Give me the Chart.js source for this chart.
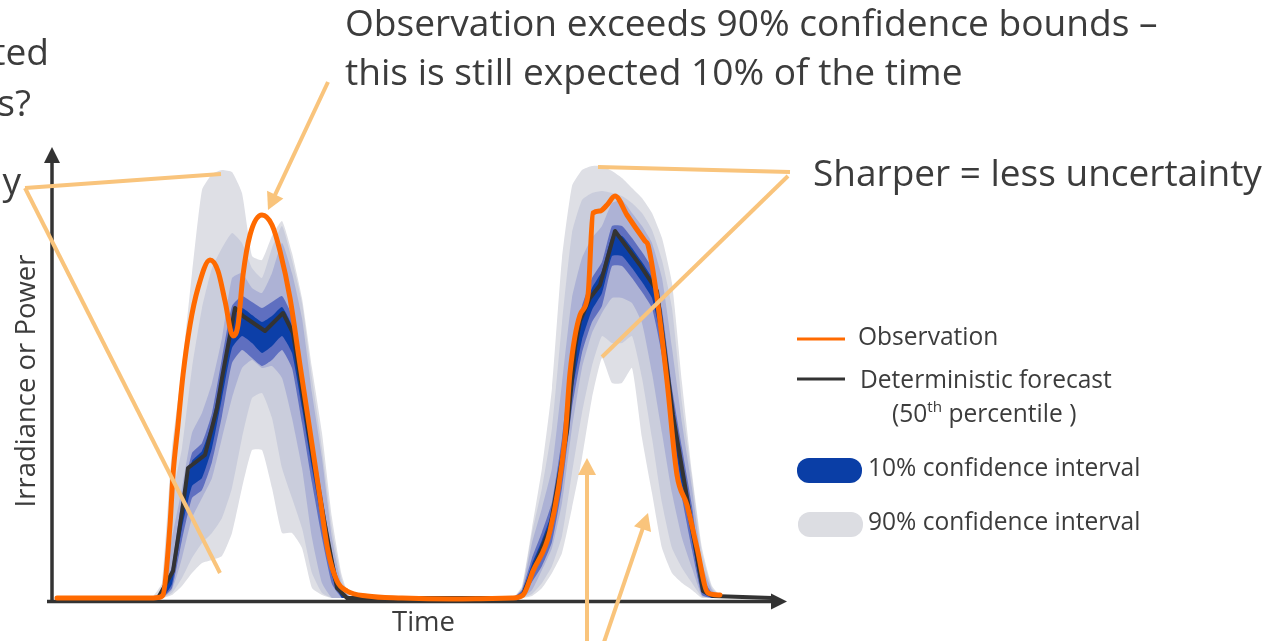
<!DOCTYPE html>
<html>
<head>
<meta charset="utf-8">
<script src="https://cdn.jsdelivr.net/npm/chart.js@4.4.1/dist/chart.umd.min.js"></script>
<style>
html,body{margin:0;padding:0;background:#ffffff;overflow:hidden;}
#wrap{width:1280px;height:641px;position:relative;}
</style>
</head>
<body>
<div id="wrap"><canvas id="c"></canvas></div>
<script>
// ---------------- DATA (time in hours, value in arbitrary irradiance/power units) ----------------
const obsX = [0.5,10,10.6,11.1,11.8,12.1,12.6,13.1,13.8,14.6,15.8,16.6,17.3,18.1,18.6,19.1,19.8,21,22,22.8,23.8,24.8,25.8,26.8,27.6,28.5,29.5,31.5,35,40,44,46,47.1,48.1,49.8,51.3,51.8,52.8,53.6,54.1,54.8,55.5,56.3,57.5,59.3,59.6,60.5,61.5,62.5,63.5,64.5,65.6,66.8];
const obsY = [0,0,0.5,3,73,123,173,223,273,310,338,327,297,262,273,323,363,383,373,347,300,233,167,100,47,17,7,2,0,-1,-0.5,0,3,27,67,160,225,283,303,385,387,393,402,383,357,353,300,217,123,93,50,5,3];

const detX = [0.5,10.6,12.1,12.8,13.1,13.6,15.3,16.5,17,18.3,19.1,21.3,23.1,24.1,24.5,25.8,27.3,28.5,29.5,46.5,47.1,49.8,51.5,52.3,52.8,53.8,54.8,56.3,58.8,60.5,62.1,63.8,65.1,66.1,72];
const detY = [0,0,27,73,93,130,143,190,220,290,282,267,285,265,240,157,73,10,0,0,3,70,167,250,277,300,313,367,333,307,183,83,7,2,0];

// quantile grid: day 1 and day 2
const bandX = [10,11,12,13,14,15,16,17,18,19,20,21,22,23,24,25,26,27,28,29,30,
               46,47,48,49,50,51,52,53,54,55,56,57,58,59,60,61,62,63,64,65,66,67];
const p95 = [0,15,150,230,325,408,424,428,426,405,342,338,362,377,345,300,230,165,80,22,0,
             0,12,70,130,210,340,412,428,432,432,427,420,410,400,385,360,315,215,125,50,12,0];
const p85 = [0,8,100,150,230,290,330,350,365,355,330,320,350,372,338,295,220,150,70,18,0,
             0,10,65,110,170,275,365,398,405,407,405,402,395,385,368,338,290,195,120,45,10,0];
const p70 = [0,5,60,110,165,185,215,260,320,325,310,305,325,355,325,280,205,140,60,12,0,
             0,9,55,90,130,215,300,340,360,372,395,398,385,372,355,320,250,175,110,35,8,0];
const p60 = [0,4,32,100,145,155,185,240,292,302,296,290,296,302,282,225,162,104,44,7,0,
             0,8,40,66,96,160,245,292,320,336,372,372,360,346,330,288,210,150,92,22,5,0];
const p55 = [0,3,26,92,137,147,176,226,280,290,283,276,282,291,272,214,153,96,38,5,0,
             0,6,34,58,86,148,232,282,310,327,362,362,350,336,320,276,198,137,81,16,3,0];
const p45 = [0,0,14,70,112,120,150,200,250,262,255,245,252,262,245,190,130,75,22,0,0,
             0,2,22,40,66,122,205,258,288,305,342,342,330,316,300,255,172,112,58,6,0,0];
const p40 = [0,0,10,58,100,108,136,182,235,248,240,232,238,248,230,175,115,60,14,0,0,
             0,0,16,32,56,110,190,245,276,292,332,332,320,306,290,242,160,100,48,3,0,0];
const p30 = [0,0,8,40,80,100,120,160,200,230,238,230,232,220,180,130,60,15,0,0,0,
             0,0,8,28,50,95,170,230,265,285,300,300,295,275,225,165,105,60,30,2,0,0];
const p15 = [0,0,5,20,40,55,65,80,110,160,200,205,180,130,100,70,25,5,0,0,0,
             0,0,4,15,32,62,125,185,232,262,255,255,262,220,160,95,50,30,15,1,0,0];
const p05 = [0,0,3,12,25,35,38,42,65,110,148,148,110,65,65,50,10,3,0,0,0,
             0,0,2,10,25,45,90,140,200,240,215,215,230,160,105,50,25,15,8,0,0,0];

// annotation guide lines (data units: hours, value)
const guideLines = [
  [[-2.7,410],[16.9,424]],
  [[-2.7,410],[16.8,25]],
  [[73.8,426],[54.6,431]],
  [[73.6,422],[55.0,241]]
];
const guideArrows = [
  [[27.6,516],[21.6,388]],
  [[53.5,-47],[53.5,140]],
  [[55.1,-47],[59.6,85]]
];

// ---------------- STYLE ----------------
const ORANGE = '#ff6a00';
const DARK = '#333333';
const GUIDE = '#f9c47c';
const TXT = '#3c3c3c';
const FONT = '"Open Sans", "DejaVu Sans", sans-serif';

const pts = (xs, ys) => xs.map((x, i) => ({x: x, y: ys[i]}));

const levels = [
  [p55, p45, '#0c3fa8'],
  [p60, p40, '#5f6fc0'],
  [p70, p30, '#adb2d5'],
  [p85, p15, '#cacddc'],
  [p95, p05, '#dedfe5']
];

const datasets = [
  {data: pts(obsX, obsY), borderColor: ORANGE, borderWidth: 5, pointRadius: 0,
   cubicInterpolationMode: 'monotone', fill: false, clip: false},
  {data: pts(detX, detY), borderColor: DARK, borderWidth: 4, pointRadius: 0,
   tension: 0, fill: false, clip: false}
];
levels.forEach(([up, lo, col]) => {
  datasets.push({data: pts(bandX, up), borderColor: 'rgba(0,0,0,0)', borderWidth: 0, pointRadius: 0,
                 backgroundColor: col, fill: '+1', tension: 0.15, clip: false});
  datasets.push({data: pts(bandX, lo), borderColor: 'rgba(0,0,0,0)', borderWidth: 0, pointRadius: 0,
                 fill: false, tension: 0.15, clip: false});
});

function fitFont(ctx, text, target, weight) {
  ctx.font = (weight || '') + ' 40px ' + FONT;
  const w = ctx.measureText(text).width;
  return 40 * target / w;
}
function arrowHead(ctx, x0, y0, x1, y1, len, half) {
  const a = Math.atan2(y1 - y0, x1 - x0);
  ctx.beginPath();
  ctx.moveTo(x1, y1);
  ctx.lineTo(x1 - len * Math.cos(a) + half * Math.sin(a), y1 - len * Math.sin(a) - half * Math.cos(a));
  ctx.lineTo(x1 - len * Math.cos(a) - half * Math.sin(a), y1 - len * Math.sin(a) + half * Math.cos(a));
  ctx.closePath();
  ctx.fill();
}

const decor = {
  id: 'decor',
  beforeDatasetsDraw(chart) {
    const ctx = chart.ctx, a = chart.chartArea;
    ctx.save();
    ctx.strokeStyle = DARK; ctx.fillStyle = DARK; ctx.lineWidth = 3.5;
    const yb = a.bottom + 3.5;
    ctx.beginPath(); ctx.moveTo(a.left, yb + 1.5); ctx.lineTo(a.left, a.top + 14); ctx.stroke();
    arrowHead(ctx, a.left, a.top + 30, a.left, a.top - 1, 16, 8);
    ctx.beginPath(); ctx.moveTo(a.left - 5, yb); ctx.lineTo(a.right + 2, yb); ctx.stroke();
    arrowHead(ctx, a.right - 10, yb, a.right + 15, yb, 16, 8);
    ctx.restore();
  },
  afterDatasetsDraw(chart) {
    const ctx = chart.ctx, xs = chart.scales.x, ys = chart.scales.y;
    const P = p => [xs.getPixelForValue(p[0]), ys.getPixelForValue(p[1])];
    ctx.save();
    ctx.strokeStyle = GUIDE; ctx.fillStyle = GUIDE; ctx.lineWidth = 4; ctx.lineCap = 'butt';
    guideLines.forEach(([s, e]) => {
      const [x0, y0] = P(s), [x1, y1] = P(e);
      ctx.beginPath(); ctx.moveTo(x0, y0); ctx.lineTo(x1, y1); ctx.stroke();
    });
    guideArrows.forEach(([s, e]) => {
      const [x0, y0] = P(s), [x1, y1] = P(e);
      const a = Math.atan2(y1 - y0, x1 - x0);
      ctx.beginPath(); ctx.moveTo(x0, y0); ctx.lineTo(x1 - 10 * Math.cos(a), y1 - 10 * Math.sin(a)); ctx.stroke();
      arrowHead(ctx, x0, y0, x1, y1, 17, 9);
    });
    ctx.restore();
  },
  afterDraw(chart) {
    const ctx = chart.ctx;
    ctx.save();
    ctx.fillStyle = TXT;
    ctx.textBaseline = 'alphabetic';
    ctx.textAlign = 'left';
    const s1 = fitFont(ctx, 'Observation exceeds 90% confidence bounds \u2013', 813);
    ctx.font = s1 + 'px ' + FONT;
    ctx.fillText('Observation exceeds 90% confidence bounds \u2013', 345, 36);
    ctx.fillText('this is still expected 10% of the time', 345, 85);
    // left partial annotation (cut off by the frame)
    ctx.textAlign = 'right';
    ctx.fillText('ted', 49, 65);
    ctx.fillText('s?', 31, 116);
    ctx.fillText('y', 21, 194);
    ctx.textAlign = 'left';
    const s2 = fitFont(ctx, 'Sharper = less uncertainty', 449);
    ctx.font = s2 + 'px ' + FONT;
    ctx.fillText('Sharper = less uncertainty', 813, 186);

    const s3 = fitFont(ctx, 'Irradiance or Power', 253);
    ctx.font = s3 + 'px ' + FONT;
    ctx.save();
    ctx.translate(35, 381);
    ctx.rotate(-Math.PI / 2);
    ctx.textAlign = 'center';
    ctx.fillText('Irradiance or Power', 0, 0);
    ctx.restore();
    const s4 = fitFont(ctx, 'Time', 63);
    ctx.font = s4 + 'px ' + FONT;
    ctx.fillText('Time', 392, 631);

    // legend
    ctx.lineWidth = 3;
    ctx.strokeStyle = ORANGE;
    ctx.beginPath(); ctx.moveTo(797, 339); ctx.lineTo(845, 339); ctx.stroke();
    ctx.strokeStyle = DARK;
    ctx.beginPath(); ctx.moveTo(797, 379); ctx.lineTo(845, 379); ctx.stroke();
    ctx.fillStyle = '#0a3ea6';
    ctx.beginPath(); ctx.roundRect(797, 458, 65, 25, 12); ctx.fill();
    ctx.fillStyle = '#dcdde2';
    ctx.beginPath(); ctx.roundRect(798, 512, 65, 25, 12); ctx.fill();

    ctx.fillStyle = TXT;
    const s5 = fitFont(ctx, 'Deterministic forecast', 252);
    ctx.font = s5 + 'px ' + FONT;
    ctx.fillText('Observation', 858, 345);
    ctx.fillText('Deterministic forecast', 860, 388);
    ctx.fillText('10% confidence interval', 868, 476);
    ctx.fillText('90% confidence interval', 868, 530);
    let x = 892;
    ctx.fillText('(50', x, 422); x += ctx.measureText('(50').width;
    ctx.font = (s5 * 0.62) + 'px ' + FONT;
    ctx.fillText('th', x, 412); x += ctx.measureText('th').width;
    ctx.font = s5 + 'px ' + FONT;
    ctx.fillText(' percentile )', x, 422);
    ctx.restore();
  }
};

new Chart(document.getElementById('c'), {
  type: 'line',
  data: {datasets: datasets},
  options: {
    responsive: true,
    maintainAspectRatio: false,
    animation: false,
    layout: {padding: {left: 52, right: 508, top: 148, bottom: 43}},
    scales: {
      x: {type: 'linear', min: 0, max: 72, display: false},
      y: {type: 'linear', min: 0, max: 450, display: false}
    },
    plugins: {legend: {display: false}, tooltip: {enabled: false}},
    elements: {line: {borderJoinStyle: 'round', borderCapStyle: 'round'}}
  },
  plugins: [decor]
});
</script>
</body>
</html>
